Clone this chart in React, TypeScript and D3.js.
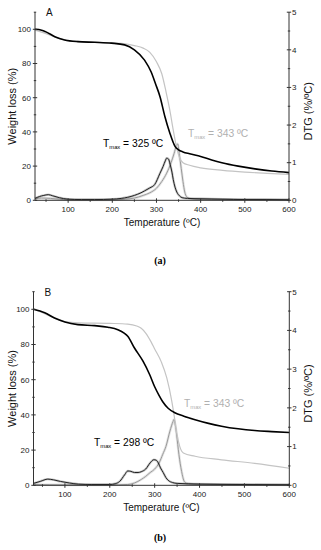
import * as d3 from "d3";

// ---- data (temperature in ºC, weight in %, DTG in %/ºC) ----
const tgA_black_T = [25, 40, 50, 70, 92, 122, 160, 198, 228, 250, 273, 288, 298, 308, 319, 330, 342, 350, 360, 375, 400, 425, 448, 485, 523, 561, 600];
const tgA_black_W = [100, 99.5, 98.5, 95.7, 93.8, 92.8, 92.4, 91.9, 90.9, 88, 82, 75, 68, 60.6, 49, 39.5, 31.5, 29.5, 28.3, 27.2, 25.6, 23.6, 22, 20, 18.4, 17.1, 16.2];
const tgA_grey_T = [25, 50, 75, 100, 150, 200, 230, 250, 270, 285, 300, 312, 322, 330, 338, 346, 352, 360, 375, 400, 450, 500, 550, 600];
const tgA_grey_W = [99.5, 97.5, 95, 93.5, 92.5, 92, 91.5, 90.5, 89, 86.5, 81, 74, 63, 53, 41, 30.5, 25, 22, 20.5, 19, 17.5, 16.5, 15.8, 15.2];
const dtgA_black_T = [25, 35, 45, 55, 65, 80, 100, 130, 160, 200, 220, 235, 250, 265, 273, 285, 296, 308, 315, 320, 323, 327, 331, 335, 338, 342, 346, 352, 358, 370, 400, 450, 500, 550, 600];
const dtgA_black_D = [0.05, 0.1, 0.13, 0.15, 0.12, 0.07, 0.03, 0.02, 0.02, 0.03, 0.05, 0.08, 0.13, 0.2, 0.25, 0.33, 0.42, 0.72, 0.9, 1.05, 1.12, 1.1, 0.95, 0.75, 0.55, 0.35, 0.22, 0.12, 0.07, 0.05, 0.04, 0.03, 0.02, 0.02, 0.015];
const dtgA_grey_T = [25, 40, 60, 80, 100, 150, 200, 230, 250, 270, 285, 300, 312, 323, 333, 340, 345, 348, 352, 356, 360, 364, 368, 375, 400, 450, 500, 600];
const dtgA_grey_D = [0.04, 0.06, 0.05, 0.03, 0.01, 0.01, 0.01, 0.03, 0.06, 0.13, 0.2, 0.32, 0.5, 0.72, 1.0, 1.25, 1.45, 1.5, 1.2, 0.85, 0.5, 0.22, 0.1, 0.05, 0.03, 0.02, 0.02, 0.01];

const tgB_black_T = [30, 55, 77, 100, 129, 166, 196, 218, 232, 240, 255, 274, 289, 300, 310, 318, 330, 345, 365, 390, 420, 449, 486, 523, 561, 600];
const tgB_black_W = [100, 98, 95, 92.8, 91.3, 90.7, 89.8, 88.4, 86.5, 84.7, 78, 70.5, 62.8, 56, 51, 47.5, 43.8, 41.2, 39.3, 37.3, 35.2, 33.6, 32.1, 31.1, 30.5, 30];
const tgB_grey_T = [30, 55, 80, 100, 130, 200, 240, 260, 270, 280, 292, 300, 315, 327, 338, 345, 349, 356, 364, 390, 449, 523, 600];
const tgB_grey_W = [100, 97.5, 94.5, 93, 92.3, 92, 91.6, 90.5, 89.2, 86.5, 81.5, 77.5, 70, 61, 48, 37, 30, 22, 18.4, 16.5, 14.5, 12.5, 9.7];
const dtgB_black_T = [30, 45, 62, 75, 90, 110, 130, 160, 200, 212, 222, 233, 240, 247, 255, 263, 270, 280, 290, 298, 303, 308, 313, 319, 325, 330, 340, 350, 400, 500, 600];
const dtgB_black_D = [0.05, 0.1, 0.16, 0.14, 0.1, 0.06, 0.03, 0.02, 0.02, 0.04, 0.1, 0.27, 0.37, 0.36, 0.33, 0.33, 0.35, 0.42, 0.58, 0.66, 0.65, 0.58, 0.45, 0.33, 0.2, 0.13, 0.07, 0.05, 0.03, 0.02, 0.015];
const dtgB_grey_T = [30, 100, 200, 240, 255, 270, 280, 290, 300, 310, 318, 325, 334, 341, 343, 346, 349, 354, 360, 366, 372, 400, 500, 600];
const dtgB_grey_D = [0.02, 0.01, 0.01, 0.02, 0.06, 0.15, 0.23, 0.33, 0.42, 0.58, 0.8, 1.0, 1.4, 1.65, 1.7, 1.55, 1.3, 0.8, 0.36, 0.1, 0.05, 0.03, 0.02, 0.01];

const xTicks = [100, 200, 300, 400, 500, 600];
const xMinor = [50, 150, 250, 350, 450, 550];
const yTicks = [0, 20, 40, 60, 80, 100];
const yMinor = [10, 30, 50, 70, 90, 110];
const y2Ticks = [0, 1, 2, 3, 4, 5];
const y2Minor = [0.5, 1.5, 2.5, 3.5, 4.5];

const FONT = "'Liberation Sans', Arial, sans-serif";
const SERIF = "'Liberation Serif', 'Times New Roman', serif";
const AXIS = "#333";

type Series = { t: number[]; v: number[] };

function Tmax({ x, y, value, color }: { x: number; y: number; value: string; color: string }) {
  return (
    <text x={x} y={y} fontFamily={FONT} fontSize={10.3} fill={color}>
      <tspan>T</tspan>
      <tspan fontSize={5.8} dy={2}>max</tspan>
      <tspan dy={-2}>{` = ${value} ºC`}</tspan>
    </text>
  );
}

function Panel({
  letter,
  xDomain,
  xRange,
  yRange,
  tgBlack,
  tgGrey,
  dtgBlack,
  dtgGrey,
  blackLabel,
  greyLabel,
}: {
  letter: string;
  xDomain: [number, number];
  xRange: [number, number];
  yRange: [number, number];
  tgBlack: Series;
  tgGrey: Series;
  dtgBlack: Series;
  dtgGrey: Series;
  blackLabel: { x: number; y: number; value: string };
  greyLabel: { x: number; y: number; value: string };
}) {
  const x = d3.scaleLinear().domain(xDomain).range(xRange);
  const y = d3.scaleLinear().domain([0, 110]).range(yRange);
  const y2 = d3.scaleLinear().domain([0, 5]).range(yRange);

  const path = (s: Series, sc: d3.ScaleLinear<number, number>) =>
    d3
      .line<number>()
      .x((_, i) => x(s.t[i]))
      .y((d) => sc(d))
      .curve(d3.curveMonotoneX)(s.v) ?? "";

  const [x0, x1] = xRange;
  const y0 = y(0);
  const yTop = y(110);
  const midY = (y0 + yTop) / 2;

  return (
    <g>
      {/* DTG curves (soft halo stands in for the noisy trace) */}
      <path d={path(dtgGrey, y2)} fill="none" stroke="#b0b0b0" strokeWidth={2.6} strokeOpacity={0.35} />
      <path d={path(dtgGrey, y2)} fill="none" stroke="#9a9a9a" strokeWidth={1} />
      <path d={path(dtgBlack, y2)} fill="none" stroke="#444" strokeWidth={2.4} strokeOpacity={0.3} />
      <path d={path(dtgBlack, y2)} fill="none" stroke="#222" strokeWidth={1} />
      {/* TG curves */}
      <path d={path(tgGrey, y)} fill="none" stroke="#c4c4c4" strokeWidth={1.2} />
      <path d={path(tgBlack, y)} fill="none" stroke="#000" strokeWidth={1.6} />

      {/* axes */}
      <line x1={x0} x2={x0} y1={y0} y2={yTop} stroke={AXIS} />
      <line x1={x1} x2={x1} y1={y0} y2={yTop} stroke={AXIS} />
      <line x1={x0} x2={x1} y1={y0} y2={y0} stroke={AXIS} />

      {yTicks.map((t) => (
        <g key={"yl" + t}>
          <line x1={x0 - 2.2} x2={x0 + 2.2} y1={y(t)} y2={y(t)} stroke={AXIS} />
          <text x={x0 - 4} y={y(t)} dy="0.35em" textAnchor="end" fontFamily={FONT} fontSize={8} fill="#222">
            {t}
          </text>
        </g>
      ))}
      {yMinor.map((t) => (
        <line key={"ym" + t} x1={x0 - 1.2} x2={x0 + 1.2} y1={y(t)} y2={y(t)} stroke={AXIS} />
      ))}
      {y2Ticks.map((t) => (
        <g key={"yr" + t}>
          <line x1={x1 - 2.2} x2={x1 + 2.2} y1={y2(t)} y2={y2(t)} stroke={AXIS} />
          <text x={x1 + 3} y={y2(t)} dy="0.35em" fontFamily={FONT} fontSize={8} fill="#222">
            {t}
          </text>
        </g>
      ))}
      {y2Minor.map((t) => (
        <line key={"yrm" + t} x1={x1 - 1.2} x2={x1 + 1.2} y1={y2(t)} y2={y2(t)} stroke={AXIS} />
      ))}
      {xTicks.map((t) => (
        <g key={"x" + t}>
          <line x1={x(t)} x2={x(t)} y1={y0 - 2} y2={y0 + 2.5} stroke={AXIS} />
          <text x={x(t)} y={y0 + 12} textAnchor="middle" fontFamily={FONT} fontSize={8} fill="#222">
            {t}
          </text>
        </g>
      ))}
      {xMinor.map((t) => (
        <line key={"xm" + t} x1={x(t)} x2={x(t)} y1={y0 - 1} y2={y0 + 1.5} stroke={AXIS} />
      ))}

      {/* axis titles */}
      <text
        transform={`translate(${12},${midY}) rotate(-90)`}
        textAnchor="middle"
        dy="0.35em"
        fontFamily={FONT}
        fontSize={11}
        fill="#111"
      >
        Weight loss (%)
      </text>
      <text
        transform={`translate(${308},${midY + 5}) rotate(-90)`}
        textAnchor="middle"
        dy="0.35em"
        fontFamily={FONT}
        fontSize={11}
        fill="#111"
      >
        DTG (%/ºC)
      </text>
      <text x={(x0 + x1) / 2} y={y0 + 26} textAnchor="middle" fontFamily={FONT} fontSize={10} fill="#111">
        Temperature (ºC)
      </text>
      <text x={x0 + 11} y={yTop + 4} fontFamily={FONT} fontSize={10} fill="#111">
        {letter}
      </text>

      <Tmax x={blackLabel.x} y={blackLabel.y} value={blackLabel.value} color="#000" />
      <Tmax x={greyLabel.x} y={greyLabel.y} value={greyLabel.value} color="#b0b0b0" />
    </g>
  );
}

export default function App() {
  return (
    <svg
      width={321}
      height={550}
      viewBox="0 0 321 550"
      style={{ position: "absolute", left: 0, top: 0, background: "#fff" }}
    >
      <Panel
        letter="A"
        xDomain={[25, 600]}
        xRange={[35, 289]}
        yRange={[200.3, 12.2]}
        tgBlack={{ t: tgA_black_T, v: tgA_black_W }}
        tgGrey={{ t: tgA_grey_T, v: tgA_grey_W }}
        dtgBlack={{ t: dtgA_black_T, v: dtgA_black_D }}
        dtgGrey={{ t: dtgA_grey_T, v: dtgA_grey_D }}
        blackLabel={{ x: 103, y: 146.5, value: "325" }}
        greyLabel={{ x: 188, y: 137, value: "343" }}
      />
      <text x={160} y={264} textAnchor="middle" fontFamily={SERIF} fontWeight="bold" fontSize={10}>
        (a)
      </text>
      <Panel
        letter="B"
        xDomain={[30, 600]}
        xRange={[33.5, 289.3]}
        yRange={[485.3, 291.7]}
        tgBlack={{ t: tgB_black_T, v: tgB_black_W }}
        tgGrey={{ t: tgB_grey_T, v: tgB_grey_W }}
        dtgBlack={{ t: dtgB_black_T, v: dtgB_black_D }}
        dtgGrey={{ t: dtgB_grey_T, v: dtgB_grey_D }}
        blackLabel={{ x: 94, y: 446, value: "298" }}
        greyLabel={{ x: 184, y: 407, value: "343" }}
      />
      <text x={160} y={541} textAnchor="middle" fontFamily={SERIF} fontWeight="bold" fontSize={10}>
        (b)
      </text>
    </svg>
  );
}
